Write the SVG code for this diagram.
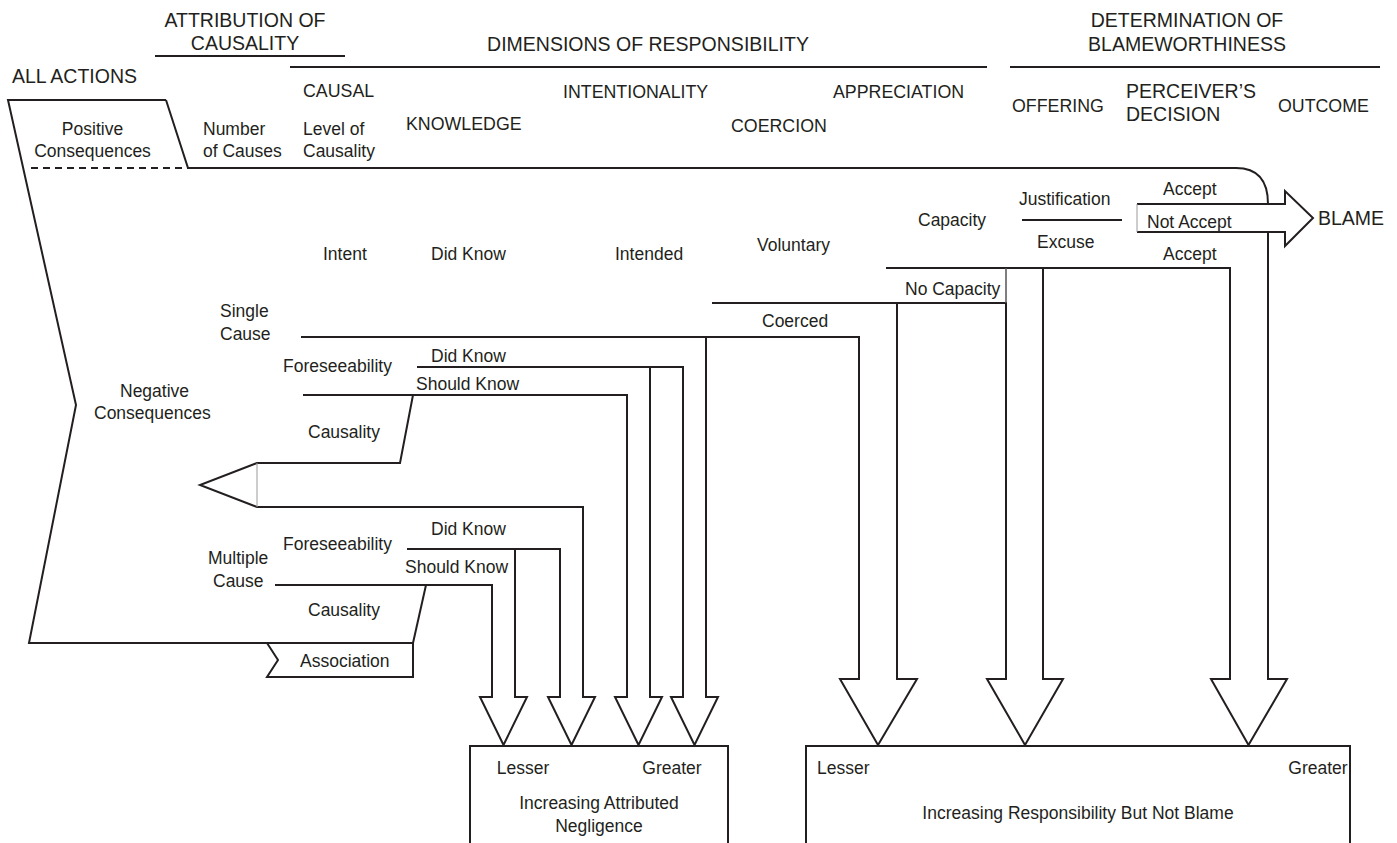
<svg xmlns="http://www.w3.org/2000/svg" width="1397" height="843" viewBox="0 0 1397 843">
<style>
text { font-family: "Liberation Sans", Arial, Helvetica, sans-serif; fill: #231f20; }
.h1 { font-size: 19.5px; }
.h2 { font-size: 17.8px; }
.lb { font-size: 17.5px; }
.mid { text-anchor: middle; }
.ln { fill: none; stroke: #231f20; stroke-width: 2; stroke-linejoin: miter; }
.wf { fill: #ffffff; stroke: #231f20; stroke-width: 2; }
.thin { fill: none; stroke: #9a9a9a; stroke-width: 1; }
</style>
<rect x="0" y="0" width="1397" height="843" fill="#ffffff"/>

<g id="headers">
  <text class="h1 mid" x="245" y="27">ATTRIBUTION OF</text>
  <text class="h1 mid" x="245" y="50">CAUSALITY</text>
  <text class="h1" x="12" y="83">ALL ACTIONS</text>
  <text class="h1 mid" x="648" y="51">DIMENSIONS OF RESPONSIBILITY</text>
  <text class="h1 mid" x="1187" y="27">DETERMINATION OF</text>
  <text class="h1 mid" x="1187" y="51">BLAMEWORTHINESS</text>
  <path class="ln" d="M155,56 H345"/>
  <path class="ln" d="M290,67 H987"/>
  <path class="ln" d="M1010,67 H1380"/>
  <text class="h2" x="303" y="97">CAUSAL</text>
  <text class="h2" x="406" y="130">KNOWLEDGE</text>
  <text class="h2" x="563" y="98">INTENTIONALITY</text>
  <text class="h2" x="731" y="132">COERCION</text>
  <text class="h2" x="833" y="98">APPRECIATION</text>
  <text class="h2" x="1012" y="112">OFFERING</text>
  <text class="h1" x="1126" y="98">PERCEIVER’S</text>
  <text class="h1" x="1126" y="121">DECISION</text>
  <text class="h2" x="1278" y="112">OUTCOME</text>
</g>

<g id="connectors">
  <path class="ln" d="M166,100 L8,100 L76,405 L29,643 L413,643"/>
  <path class="ln" d="M31,168 H188" stroke-dasharray="7 5"/>
  <path class="ln" d="M166,100 L188,168 H1236 Q1268,168 1268,204 V679 H1287 L1248.5,745 L1211,679 H1230 V268 H886"/>
  <path class="ln" d="M1043,268 V679 H1063 L1025,745 L987,679 H1006 V303 H712"/>
  <path d="M1006,268 V303" stroke="#555" stroke-width="1.5" fill="none"/>
  <path class="ln" d="M897,303 V679 H917 L878,745 L840,679 H859 V337 H301"/>
  <path class="ln" d="M706,337 V697 H718 L694.5,745 L671,697 H683 V367 H417"/>
  <path class="ln" d="M650,367 V697 H662 L638.5,745 L615,697 H627 V395 H303"/>
  <path class="ln" d="M413,395 L400,463 H257 L200,485 L257,507 H583 V697 H595 L571.5,745 L548,697 H560 V549 H407"/>
  <path class="thin" d="M257,463 V507"/>
  <path class="ln" d="M515,549 V697 H527 L503.5,745 L480,697 H492 V585 H275"/>
  <path class="ln" d="M426,585 L413,643"/>
  <path class="ln" d="M1022,220 H1122"/>
</g>

<g id="blame-arrow">
  <path class="wf" d="M1137,204 H1285 V191 L1313,218 L1285,246 V232 H1137"/>
  <path class="thin" d="M1137,204 V232"/>
  <text class="h1" x="1318" y="225">BLAME</text>
</g>

<g id="association">
  <path class="ln" d="M413,643 V677 H267 L278,660 L267,643"/>
  <text class="lb" x="300" y="667">Association</text>
</g>

<g id="positive">
  <text class="lb mid" x="92.5" y="135">Positive</text>
  <text class="lb mid" x="92.5" y="157">Consequences</text>
</g>
<g id="negative">
  <text class="lb" x="120" y="397">Negative</text>
  <text class="lb" x="94" y="419">Consequences</text>
</g>
<g id="number-of-causes">
  <text class="lb" x="203" y="135">Number</text>
  <text class="lb" x="203" y="157">of Causes</text>
</g>
<g id="level-of-causality">
  <text class="lb" x="303" y="135">Level of</text>
  <text class="lb" x="303" y="157">Causality</text>
</g>

<g id="single-cause">
  <text class="lb" x="220" y="317">Single</text>
  <text class="lb" x="220" y="340">Cause</text>
  <text class="lb" x="323" y="260">Intent</text>
  <text class="lb" x="431" y="260">Did Know</text>
  <text class="lb" x="615" y="260">Intended</text>
  <text class="lb" x="757" y="251">Voluntary</text>
  <text class="lb" x="918" y="226">Capacity</text>
  <text class="lb" x="1019" y="205">Justification</text>
  <text class="lb" x="1037" y="248">Excuse</text>
  <text class="lb" x="1163" y="195">Accept</text>
  <text class="lb" x="1147" y="228">Not Accept</text>
  <text class="lb" x="1163" y="260">Accept</text>
  <text class="lb" x="905" y="295">No Capacity</text>
  <text class="lb" x="762" y="327">Coerced</text>
  <text class="lb" x="283" y="372">Foreseeability</text>
  <text class="lb" x="431" y="362">Did Know</text>
  <text class="lb" x="416" y="390">Should Know</text>
  <text class="lb" x="308" y="438">Causality</text>
</g>

<g id="multiple-cause">
  <text class="lb" x="208" y="564">Multiple</text>
  <text class="lb" x="213" y="587">Cause</text>
  <text class="lb" x="283" y="550">Foreseeability</text>
  <text class="lb" x="431" y="535">Did Know</text>
  <text class="lb" x="405" y="573">Should Know</text>
  <text class="lb" x="308" y="616">Causality</text>
</g>

<g id="negligence-box">
  <path class="ln" d="M470,846 V746 H728 V846"/>
  <text class="lb mid" x="523" y="774">Lesser</text>
  <text class="lb mid" x="672" y="774">Greater</text>
  <text class="lb mid" x="599" y="809">Increasing Attributed</text>
  <text class="lb mid" x="599" y="832">Negligence</text>
</g>

<g id="responsibility-box">
  <path class="ln" d="M806,846 V746 H1350 V846"/>
  <text class="lb" x="817" y="774">Lesser</text>
  <text class="lb mid" x="1318" y="774">Greater</text>
  <text class="lb mid" x="1078" y="819">Increasing Responsibility But Not Blame</text>
</g>
</svg>
